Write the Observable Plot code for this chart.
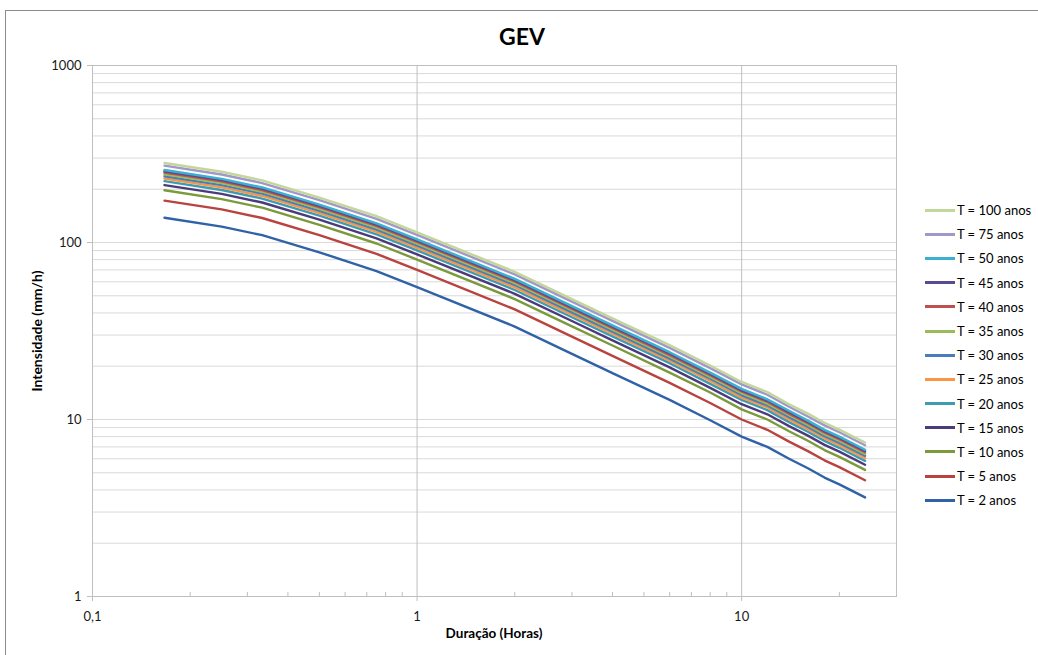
<!DOCTYPE html>
<html>
<head>
<meta charset="utf-8">
<script src="https://cdn.jsdelivr.net/npm/d3@7"></script>
<script src="https://cdn.jsdelivr.net/npm/@observablehq/plot@0.6"></script>
<style>
  body { margin: 0; background: #fff; font-family: Lato, "Open Sans", sans-serif; }
  #wrap { position: relative; width: 1038px; height: 655px; overflow: hidden; background: #fff; }
  #frame { position: absolute; left: 5px; top: 10px; width: 1100px; height: 700px; border: 1px solid #8c8c8c; box-sizing: border-box; }
  #chart { position: absolute; left: 0; top: 0; }
  #title { position: absolute; left: 0; width: 1044px; top: 22px; text-align: center; font-weight: bold; font-size: 23px; color: #000; }
  #xlabel { position: absolute; left: 92px; width: 804px; top: 625px; text-align: center; font-weight: bold; font-size: 13.5px; color: #000; }
  #ylabel { position: absolute; left: 36px; top: 331px; transform: translate(-50%, -50%) rotate(-90deg); font-weight: bold; font-size: 14px; color: #000; white-space: nowrap; }
  #legend { position: absolute; left: 925px; top: 198px; }
  .item { height: 24.2px; display: flex; align-items: center; font-size: 13px; color: #000; }
  .item .sw { width: 30px; height: 3px; margin-right: 2px; }
</style>
</head>
<body>
<div id="wrap">
  <div id="frame"></div>
  <div id="chart"></div>
  <div id="title">GEV</div>
  <div id="xlabel">Duração (Horas)</div>
  <div id="ylabel">Intensidade (mm/h)</div>
  <div id="legend"></div>
</div>
<script>
// Durations (hours)
const durations = [0.1667, 0.25, 0.3333, 0.5, 0.75, 1, 2, 3, 4, 6, 8, 10, 12, 14, 16, 18, 20, 24];

// Series names (return periods)
const periods = ["T = 2 anos", "T = 5 anos", "T = 10 anos", "T = 15 anos", "T = 20 anos", "T = 25 anos",
  "T = 30 anos", "T = 35 anos", "T = 40 anos", "T = 45 anos", "T = 50 anos", "T = 75 anos", "T = 100 anos"];

// Intensities (mm/h)
const t2   = [138, 123, 110, 88, 69, 56, 33.5, 23.5, 18.3, 12.9, 9.9, 8.0, 7.0, 6.0, 5.3, 4.7, 4.3, 3.63];
const t5   = [172.5, 153.8, 137.5, 110, 86.3, 70, 41.9, 29.4, 22.9, 16.1, 12.4, 10.0, 8.75, 7.5, 6.63, 5.88, 5.38, 4.54];
const t10  = [197.3, 175.9, 157.3, 125.8, 98.7, 80.1, 47.9, 33.6, 26.2, 18.4, 14.2, 11.4, 10.0, 8.58, 7.58, 6.72, 6.15, 5.19];
const t15  = [211.1, 188.2, 168.3, 134.6, 105.6, 85.7, 51.3, 36.0, 28.0, 19.7, 15.1, 12.2, 10.7, 9.18, 8.11, 7.19, 6.58, 5.55];
const t20  = [222.2, 198.0, 177.1, 141.7, 111.1, 90.2, 53.9, 37.8, 29.5, 20.8, 15.9, 12.9, 11.3, 9.66, 8.53, 7.57, 6.92, 5.84];
const t25  = [229.8, 204.8, 183.2, 146.5, 114.9, 93.2, 55.8, 39.1, 30.5, 21.5, 16.5, 13.3, 11.7, 9.99, 8.82, 7.83, 7.16, 6.04];
const t30  = [236.7, 210.9, 188.7, 150.9, 118.3, 96.0, 57.5, 40.3, 31.4, 22.1, 17.0, 13.7, 12.0, 10.3, 9.09, 8.06, 7.37, 6.23];
const t35  = [242.9, 216.5, 193.6, 154.9, 121.4, 98.6, 59.0, 41.4, 32.2, 22.7, 17.4, 14.1, 12.3, 10.6, 9.33, 8.27, 7.57, 6.39];
const t40  = [248.4, 221.4, 198.0, 158.4, 124.2, 100.8, 60.3, 42.3, 32.9, 23.2, 17.8, 14.4, 12.6, 10.8, 9.54, 8.46, 7.74, 6.53];
const t45  = [252.5, 225.1, 201.3, 161.0, 126.3, 102.5, 61.3, 43.0, 33.5, 23.6, 18.1, 14.6, 12.8, 11.0, 9.70, 8.60, 7.87, 6.64];
const t50  = [256.7, 228.8, 204.6, 163.7, 128.3, 104.2, 62.3, 43.7, 34.0, 24.0, 18.4, 14.9, 13.0, 11.2, 9.86, 8.74, 8.00, 6.75];
const t75  = [271.9, 242.3, 216.7, 173.4, 135.9, 110.3, 66.0, 46.3, 36.1, 25.4, 19.5, 15.8, 13.8, 11.8, 10.4, 9.26, 8.47, 7.15];
const t100 = [281.5, 250.9, 224.4, 179.5, 140.8, 114.2, 68.3, 47.9, 37.3, 26.3, 20.2, 16.3, 14.3, 12.2, 10.8, 9.59, 8.77, 7.41];

const seriesColors = ["#2f62a6", "#b8433f", "#7a9a3c", "#4a3c7c", "#3d9cb3", "#f79646",
  "#4a7ebb", "#9bbb59", "#c0504d", "#5a4a8f", "#3bb0d0", "#a197c8", "#c4d79b"];

// Axis tick values
const yMajorTicks = [1, 10, 100, 1000];
const yGridTicks = [2,3,4,5,6,7,8,9,10,20,30,40,50,60,70,80,90,100,200,300,400,500,600,700,800,900,1000];
const xMajorTicks = [0.1, 1, 10];
const xGridTicks = [1, 10];
const xMinorTicks = [0.2,0.3,0.4,0.5,0.6,0.7,0.8,0.9,2,3,4,5,6,7,8,9,20];

const allSeries = [t2, t5, t10, t15, t20, t25, t30, t35, t40, t45, t50, t75, t100];
const rows = [];
allSeries.forEach((vals, s) => {
  vals.forEach((v, k) => rows.push({serie: periods[s], d: durations[k], i: v}));
});

const chart = Plot.plot({
  width: 1038,
  height: 655,
  marginLeft: 92,
  marginRight: 142,
  marginTop: 65,
  marginBottom: 59,
  x: {type: "log", domain: [0.1, 30]},
  y: {type: "log", domain: [1, 1000]},
  color: {domain: periods, range: seriesColors},
  style: {fontFamily: "Lato, 'Open Sans', sans-serif", fontSize: "13px", background: "transparent", overflow: "visible"},
  marks: [
    Plot.gridY(yGridTicks, {stroke: "#d9d9d9", strokeOpacity: 1}),
    Plot.gridX(xGridTicks, {stroke: "#bfbfbf", strokeOpacity: 1}),
    Plot.frame({stroke: "#bfbfbf"}),
    Plot.axisY(yMajorTicks, {tickFormat: d => String(d), tickSize: 5, tickPadding: 6, stroke: "#bfbfbf", fill: "#1a1a1a", label: null}),
    Plot.axisX(xMajorTicks, {tickFormat: d => String(d).replace(".", ","), tickSize: 5, tickPadding: 10, stroke: "#bfbfbf", fill: "#1a1a1a", label: null}),
    Plot.axisX(xMinorTicks, {tickFormat: () => "", tickSize: 4, dy: -4, stroke: "#bfbfbf", label: null}),
    Plot.line(rows, {x: "d", y: "i", z: "serie", stroke: "serie", strokeWidth: 2.4})
  ]
});
document.getElementById("chart").appendChild(chart);

// Legend (reverse order, as in the original)
const legend = document.getElementById("legend");
periods.slice().reverse().forEach(p => {
  const idx = periods.indexOf(p);
  const item = document.createElement("div");
  item.className = "item";
  const sw = document.createElement("span");
  sw.className = "sw";
  sw.style.background = seriesColors[idx];
  const tx = document.createElement("span");
  tx.textContent = p;
  item.appendChild(sw);
  item.appendChild(tx);
  legend.appendChild(item);
});
</script>
</body>
</html>
